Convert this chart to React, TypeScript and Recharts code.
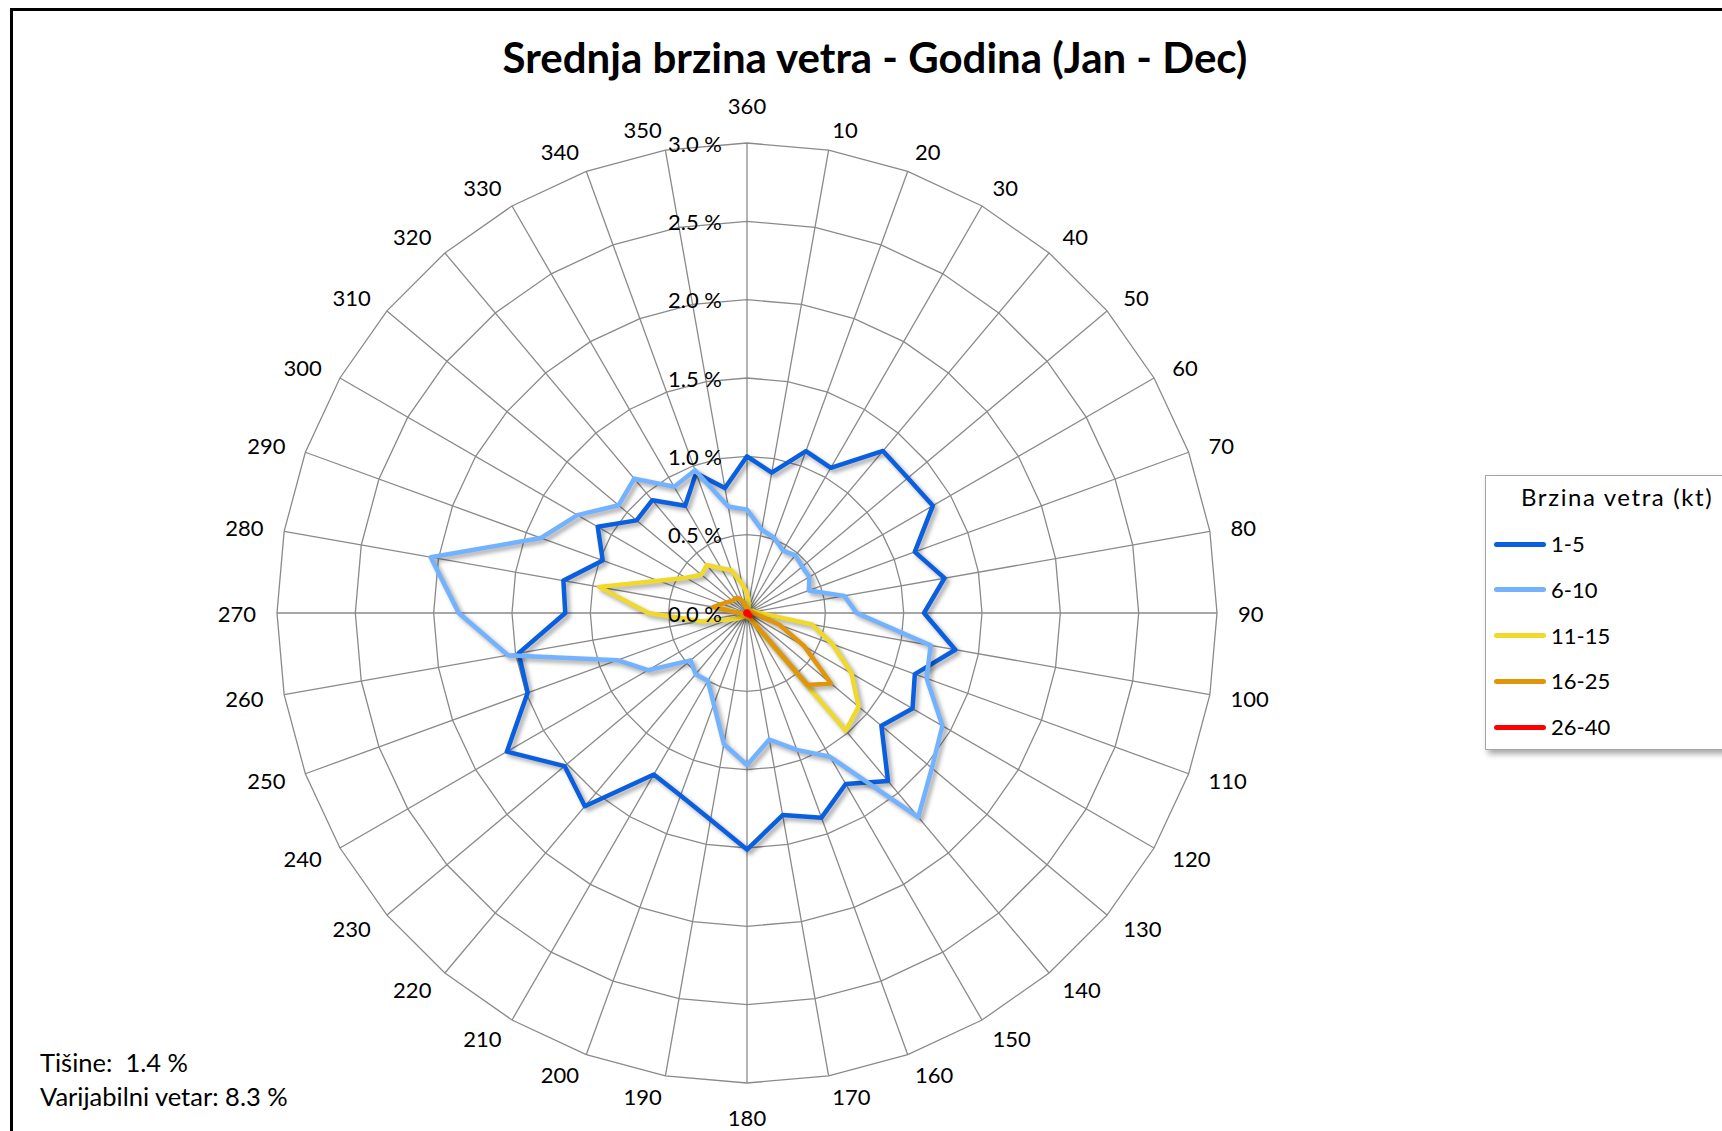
import React from "react";
import { RadarChart, Radar, PolarGrid, PolarAngleAxis, PolarRadiusAxis } from "recharts";

const directions = ["360", "10", "20", "30", "40", "50", "60", "70", "80", "90", "100", "110", "120", "130", "140", "150", "160", "170", "180", "190", "200", "210", "220", "230", "240", "250", "260", "270", "280", "290", "300", "310", "320", "330", "340", "350"];

const speed1to5 = [1.00, 0.91, 1.10, 1.07, 1.35, 1.34, 1.37, 1.14, 1.28, 1.13, 1.35, 1.14, 1.22, 1.12, 1.40, 1.26, 1.39, 1.31, 1.51, 1.34, 1.24, 1.19, 1.61, 1.52, 1.77, 1.49, 1.48, 1.16, 1.19, 0.98, 1.10, 0.92, 0.94, 0.79, 0.95, 0.81];
const speed6to10 = [0.66, 0.54, 0.51, 0.46, 0.48, 0.46, 0.46, 0.42, 0.63, 0.70, 1.19, 1.22, 1.44, 1.54, 1.70, 1.06, 0.93, 0.82, 0.97, 0.85, 0.62, 0.50, 0.51, 0.47, 0.73, 0.88, 1.55, 1.84, 2.05, 1.40, 1.25, 1.07, 1.12, 0.93, 0.97, 0.69];
const speed11to15 = [0.13, 0.06, 0.03, 0.02, 0.02, 0.02, 0.03, 0.04, 0.05, 0.08, 0.42, 0.58, 0.77, 0.93, 0.98, 0.05, 0.03, 0.03, 0.02, 0.02, 0.02, 0.02, 0.03, 0.04, 0.07, 0.12, 0.30, 0.63, 0.96, 0.60, 0.45, 0.38, 0.40, 0.33, 0.29, 0.19];
const speed16to25 = [0.03, 0.02, 0.02, 0.02, 0.02, 0.02, 0.02, 0.02, 0.03, 0.04, 0.07, 0.22, 0.42, 0.70, 0.60, 0.04, 0.02, 0.02, 0.02, 0.02, 0.02, 0.02, 0.02, 0.02, 0.02, 0.03, 0.03, 0.05, 0.22, 0.17, 0.14, 0.12, 0.12, 0.11, 0.08, 0.04];
const speed26to40 = [0.01, 0.01, 0.01, 0.01, 0.01, 0.01, 0.01, 0.01, 0.01, 0.01, 0.01, 0.01, 0.02, 0.03, 0.02, 0.01, 0.01, 0.01, 0.01, 0.01, 0.01, 0.01, 0.01, 0.01, 0.01, 0.01, 0.01, 0.01, 0.01, 0.01, 0.01, 0.01, 0.01, 0.01, 0.01, 0.01];

const radiusTicks = [0, 0.5, 1.0, 1.5, 2.0, 2.5, 3.0];

const seriesKeys = ["s1", "s2", "s3", "s4", "s5"];
const seriesNames = ["1-5", "6-10", "11-15", "16-25", "26-40"];
const seriesColors = ["#0A5FE0", "#72B2FF", "#F0D92A", "#E19608", "#FF0000"];

const title = "Srednja brzina vetra - Godina (Jan - Dec)";
const legendTitle = "Brzina vetra (kt)";
const calmText = "Tišine:  1.4 %";
const variableText = "Varijabilni vetar: 8.3 %";

const data = directions.map((d, i) => ({
  dir: d,
  s1: speed1to5[i],
  s2: speed6to10[i],
  s3: speed11to15[i],
  s4: speed16to25[i],
  s5: speed26to40[i],
}));

const FONT = "Lato, 'Open Sans', sans-serif";
const CX = 747;
const CY = 613;
const R = 470;

const AngleTick = (props: any) => {
  const a = (props.payload.coordinate * Math.PI) / 180;
  const ux = Math.cos(a);
  const uy = -Math.sin(a);
  const rr = R + 21;
  let x = CX + rr * ux;
  let y = CY + rr * uy;
  let anchor: "start" | "end" | "middle" = "middle";
  if (Math.abs(ux) < 1e-3) {
    y += uy < 0 ? -16.5 : 13.5;
  } else {
    anchor = ux > 0 ? "start" : "end";
  }
  return (
    <text x={x} y={y} textAnchor={anchor} dominantBaseline="central" fontFamily={FONT} fontSize={22} fill="#000">
      {props.payload.value}
    </text>
  );
};

const RadiusTick = (props: any) => {
  const { x, y, payload } = props;
  return (
    <text x={x - 25} y={y} textAnchor="end" dominantBaseline="central" fontFamily={FONT} fontSize={22} fill="#000">
      {Number(payload.value).toFixed(1) + " %"}
    </text>
  );
};

export default function App() {
  return (
    <div style={{ position: "fixed", left: 0, top: 0, width: 1722, height: 1131, overflow: "hidden", background: "#fff", fontFamily: FONT }}>
      <style>{`.recharts-radar .recharts-polygon, .recharts-radar-polygon path { filter: drop-shadow(3px 3px 2px rgba(0,0,0,0.35)); }`}</style>
      <div style={{ position: "absolute", left: 10, top: 8, width: 1800, height: 1300, border: "3px solid #000", boxSizing: "border-box" }} />
      <div style={{ position: "absolute", left: 0, width: 1750, top: 33, textAlign: "center", fontSize: 42, fontWeight: 700, lineHeight: "48px", color: "#000" }}>
        {title}
      </div>
      <div style={{ position: "absolute", left: 0, top: 0 }}>
        <RadarChart width={1722} height={1131} data={data} cx={CX} cy={CY} outerRadius={R} innerRadius={0} margin={{ top: 0, right: 0, bottom: 0, left: 0 }}>
          <PolarGrid gridType="polygon" stroke="#8a8a8a" strokeWidth={1.3} />
          <PolarAngleAxis dataKey="dir" tick={AngleTick} axisLine={false} tickLine={false} />
          <PolarRadiusAxis angle={90} domain={[0, 3]} ticks={radiusTicks} tickCount={7} axisLine={false} tickLine={false} tick={RadiusTick} />
          {seriesKeys.map((k, i) => (
            <Radar
              key={k}
              name={seriesNames[i]}
              dataKey={k}
              stroke={seriesColors[i]}
              strokeWidth={4.5}
              strokeLinejoin="round"
              fill="none"
              fillOpacity={0}
              dot={false}
              isAnimationActive={false}
            />
          ))}
        </RadarChart>
      </div>
      <div style={{ position: "absolute", left: 1485, top: 475, width: 300, height: 275, border: "1px solid #a6a6a6", boxSizing: "border-box", background: "#fff", boxShadow: "3px 4px 6px rgba(0,0,0,0.35)" }}>
        <div style={{ position: "absolute", left: 35, top: 8, fontSize: 24, lineHeight: "26px", letterSpacing: "1.6px", whiteSpace: "pre" }}>{legendTitle}</div>
        {seriesNames.map((n, i) => (
          <div key={n} style={{ position: "absolute", left: 8, top: 55 + i * 45.8, height: 26, display: "flex", alignItems: "center" }}>
            <div style={{ width: 52, height: 5, borderRadius: 3, background: seriesColors[i] }} />
            <div style={{ marginLeft: 5, fontSize: 22, lineHeight: "26px" }}>{n}</div>
          </div>
        ))}
      </div>
      <div style={{ position: "absolute", left: 40, top: 1048, fontSize: 25.5, lineHeight: "28px", whiteSpace: "pre" }}>{calmText}</div>
      <div style={{ position: "absolute", left: 40, top: 1082, fontSize: 25.5, lineHeight: "28px", whiteSpace: "pre" }}>{variableText}</div>
    </div>
  );
}
